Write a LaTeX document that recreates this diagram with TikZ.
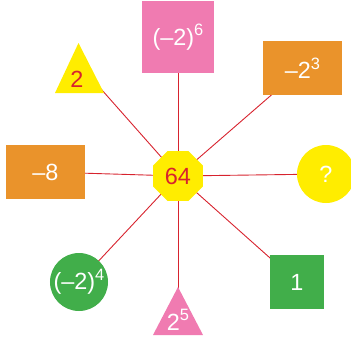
\documentclass[tikz,border=0pt]{standalone}
\usepackage{fontspec}
\setmainfont{Liberation Sans}
\usetikzlibrary{shapes.geometric,backgrounds}
\definecolor{pk}{HTML}{F07BB1}
\definecolor{og}{HTML}{EA932B}
\definecolor{gr}{HTML}{41AE4A}
\definecolor{yl}{HTML}{FFED00}
\definecolor{rd}{HTML}{D7232E}
\newcommand\myexp[1]{\raisebox{0.40em}{\fontsize{16.5}{16.5}\selectfont #1}}
\begin{document}
\begin{tikzpicture}[x=1bp,y=-1bp,
  lbl/.style={font=\fontsize{23.5}{23.5}\selectfont, text=white, inner sep=0pt},
  conn/.style={draw=rd, line width=0.9bp},
  sq/.style={rectangle, inner sep=0pt, lbl}]
\useasboundingbox (0,0) rectangle (351,339);
% center
\node[regular polygon, regular polygon sides=8, fill=yl, minimum size=54bp, inner sep=0pt,
      lbl, text=rd] (c) at (178,176) {64};
% boxes
\node[sq, fill=pk, minimum width=72bp, minimum height=72bp] (n6) at (178,37) {(–2)\myexp{6}};
\node[sq, fill=og, minimum width=79bp, minimum height=54bp] (n3) at (302.5,68) {–2\myexp{3}};
\node[sq, fill=og, minimum width=79bp, minimum height=54bp] (n8) at (45.5,172) {–8};
\node[circle, fill=yl, minimum size=58bp, inner sep=0pt, lbl] (nq) at (326,174) {?};
\node[sq, fill=gr, minimum width=54bp, minimum height=54bp] (n1) at (297,282) {1};
\node[circle, fill=gr, minimum size=58bp, inner sep=0pt, lbl] (n4) at (79,282) {(–2)\myexp{4}};
% triangles
\fill[yl] (55,93) -- (78.5,43) -- (104,93) -- cycle;
\node[lbl, text=rd] (n2) at (77,79) {2};
\coordinate (t2) at (86,72);
\fill[pk] (153,335) -- (178,287) -- (203,335) -- cycle;
\node[lbl] (n5) at (178,320) {2\myexp{5}};
% connectors
\begin{scope}[on background layer]
\draw[conn] (c.center) -- (n6.center);
\draw[conn] (c.center) -- (n3.center);
\draw[conn] (c.center) -- (n8.center);
\draw[conn] (c.center) -- (nq.center);
\draw[conn] (c.center) -- (n1.center);
\draw[conn] (c.center) -- (n4.center);
\draw[conn] (c.center) -- (t2);
\draw[conn] (c.center) -- (n5.center);
\end{scope}
\end{tikzpicture}
\end{document}
